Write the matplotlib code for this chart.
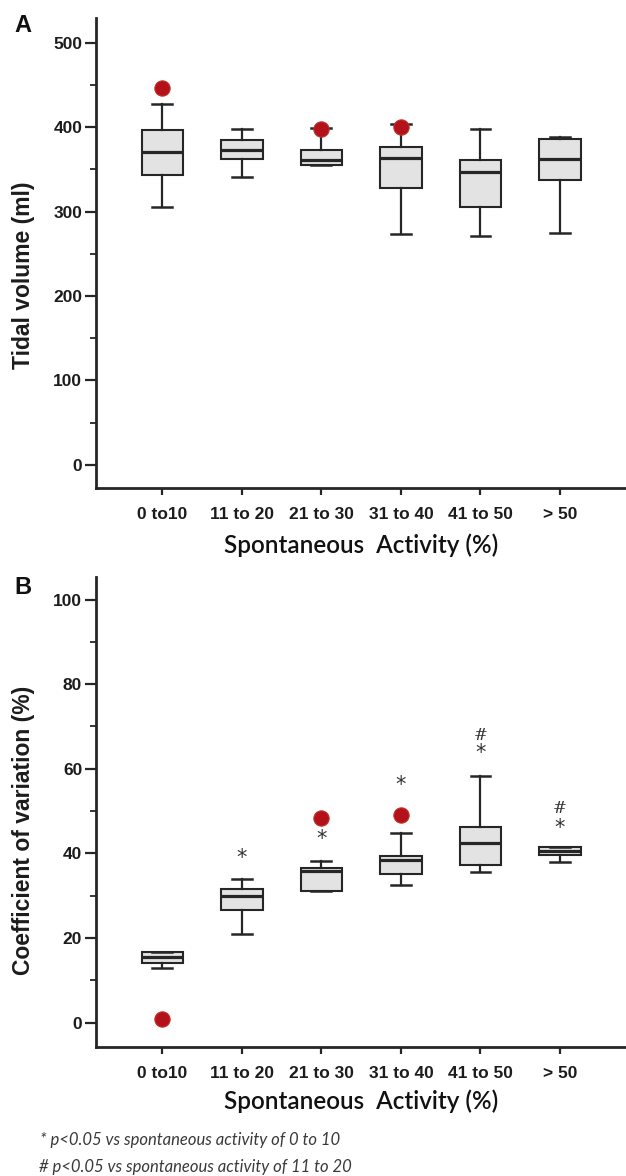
import matplotlib
matplotlib.use('Agg')
from matplotlib import pyplot as plt
from matplotlib.ticker import MultipleLocator

# categories
labels = ['0 to10', '11 to 20', '21 to 30', '31 to 40', '41 to 50', '> 50']

# panel A: tidal volume (ml)
tv_whislo = [306, 341, 355.5, 274, 271, 275]
tv_q1 = [344, 362.5, 355.5, 328, 306, 337]
tv_med = [371, 372.5, 361.5, 363, 346.5, 362.5]
tv_q3 = [397, 385, 373.5, 377, 361.5, 386.5]
tv_whishi = [427, 398, 399, 404, 398, 388]
tv_out = [[447], [], [398], [400], [], []]

# panel B: coefficient of variation (%)
cv_whislo = [12.8, 21.0, 31.1, 32.6, 35.7, 37.9]
cv_q1 = [14.2, 26.7, 31.1, 35.1, 37.2, 39.6]
cv_med = [15.4, 29.9, 35.9, 38.5, 42.4, 40.6]
cv_q3 = [16.6, 31.7, 36.6, 39.4, 46.2, 41.5]
cv_whishi = [16.6, 33.9, 38.2, 44.9, 58.4, 41.5]
cv_out = [[0.8], [], [48.3], [49.1], [], []]

# significance marks (y position of symbol, None = no mark)
star_y = [None, 38.9, 43.4, 56.2, 63.8, 46.1]
hash_y = [None, None, None, None, 67.9, 50.5]

DARK = '#262626'
BOX_FACE = '#e3e3e3'
DOT = '#b3121a'


def make_stats(whislo, q1, med, q3, whishi, out):
    stats = []
    for i in range(len(med)):
        stats.append(dict(whislo=whislo[i], q1=q1[i], med=med[i], q3=q3[i],
                          whishi=whishi[i], fliers=out[i]))
    return stats


def draw_panel(ax, stats, ylim, major, minor, ylabel, label_y, xlabel_y):
    pos = list(range(len(stats)))
    ax.bxp(stats, positions=pos, widths=0.52, patch_artist=True, showfliers=True,
           boxprops=dict(facecolor=BOX_FACE, edgecolor=DARK, linewidth=1.5),
           medianprops=dict(color=DARK, linewidth=2.3),
           whiskerprops=dict(color=DARK, linewidth=1.6),
           capprops=dict(color=DARK, linewidth=1.8),
           capwidths=0.25,
           flierprops=dict(marker='o', markersize=11, markerfacecolor=DOT,
                           markeredgecolor='#c0302a', markeredgewidth=0.8, zorder=5))
    ax.set_xlim(-0.834, 5.83)
    ax.set_ylim(*ylim)
    ax.yaxis.set_major_locator(MultipleLocator(major))
    ax.yaxis.set_minor_locator(MultipleLocator(minor))
    ax.set_xticks(pos)
    ax.set_xticklabels(labels)

    for s in ['top', 'right']:
        ax.spines[s].set_visible(False)
    for s in ['left', 'bottom']:
        ax.spines[s].set_linewidth(2.0)
        ax.spines[s].set_color(DARK)

    ax.tick_params(axis='y', which='major', length=8, width=1.6, color=DARK, pad=2)
    ax.tick_params(axis='y', which='minor', length=4, width=1.3, color=DARK)
    ax.tick_params(axis='x', length=5, width=1.6, color=DARK, pad=9)
    for t in ax.get_xticklabels() + ax.get_yticklabels():
        t.set_family(['Liberation Sans', 'DejaVu Sans'])
        t.set_fontweight('bold')
        t.set_fontsize(12.5)
        t.set_color('#1c1c1c')

    ax.set_ylabel(ylabel, fontsize=16.5, fontweight='bold', color='#1c1c1c',
                  family=['Liberation Sans', 'DejaVu Sans'])
    ax.yaxis.set_label_coords(-0.136, label_y)
    ax.yaxis.label.set_va('center')

    ax.set_xlabel('Spontaneous  Activity (%)', fontsize=17.5, color='#111111',
                  family=['Lato', 'DejaVu Sans'], fontweight='semibold')
    ax.xaxis.set_label_coords(0.5, xlabel_y)
    ax.xaxis.label.set_va('center')


fig = plt.figure(figsize=(6.26, 11.76), dpi=100)
ax_a = fig.add_axes([0.1534, 0.5853, 0.8466, 0.3991])
ax_b = fig.add_axes([0.1534, 0.1100, 0.8466, 0.3996])

draw_panel(ax_a, make_stats(tv_whislo, tv_q1, tv_med, tv_q3, tv_whishi, tv_out),
           (-27, 529), 100, 50, 'Tidal volume (ml)', 0.453, -0.1236)
draw_panel(ax_b, make_stats(cv_whislo, cv_q1, cv_med, cv_q3, cv_whishi, cv_out),
           (-5.67, 105.4), 20, 10, 'Coefficient of variation (%)', 0.461, -0.117)

# significance symbols
for i in range(len(labels)):
    if star_y[i] is not None:
        ax_b.text(i, star_y[i], '*', ha='center', va='center', fontsize=15,
                  color='#333333', family='DejaVu Sans')
    if hash_y[i] is not None:
        ax_b.text(i, hash_y[i], '#', ha='center', va='center', fontsize=12,
                  color='#333333', family='DejaVu Serif')

# panel letters
fig.text(23 / 626, 1 - 25 / 1176, 'A', fontsize=17, fontweight='bold',
         ha='center', va='center', family='Liberation Sans', color='#111111')
fig.text(23 / 626, 1 - 587 / 1176, 'B', fontsize=17, fontweight='bold',
         ha='center', va='center', family='Liberation Sans', color='#111111')

# footnotes
fig.text(40 / 626, 1 - 1140 / 1176, '* p<0.05 vs spontaneous activity of 0 to 10',
         fontsize=12, style='italic', family=['Lato', 'DejaVu Sans'],
         color='#3a3a3a', ha='left', va='center')
fig.text(39 / 626, 1 - 1166.7 / 1176, '# p<0.05 vs spontaneous activity of 11 to 20',
         fontsize=12, style='italic', family=['Lato', 'DejaVu Sans'],
         color='#3a3a3a', ha='left', va='center')

fig.savefig('out.png', dpi=100)
